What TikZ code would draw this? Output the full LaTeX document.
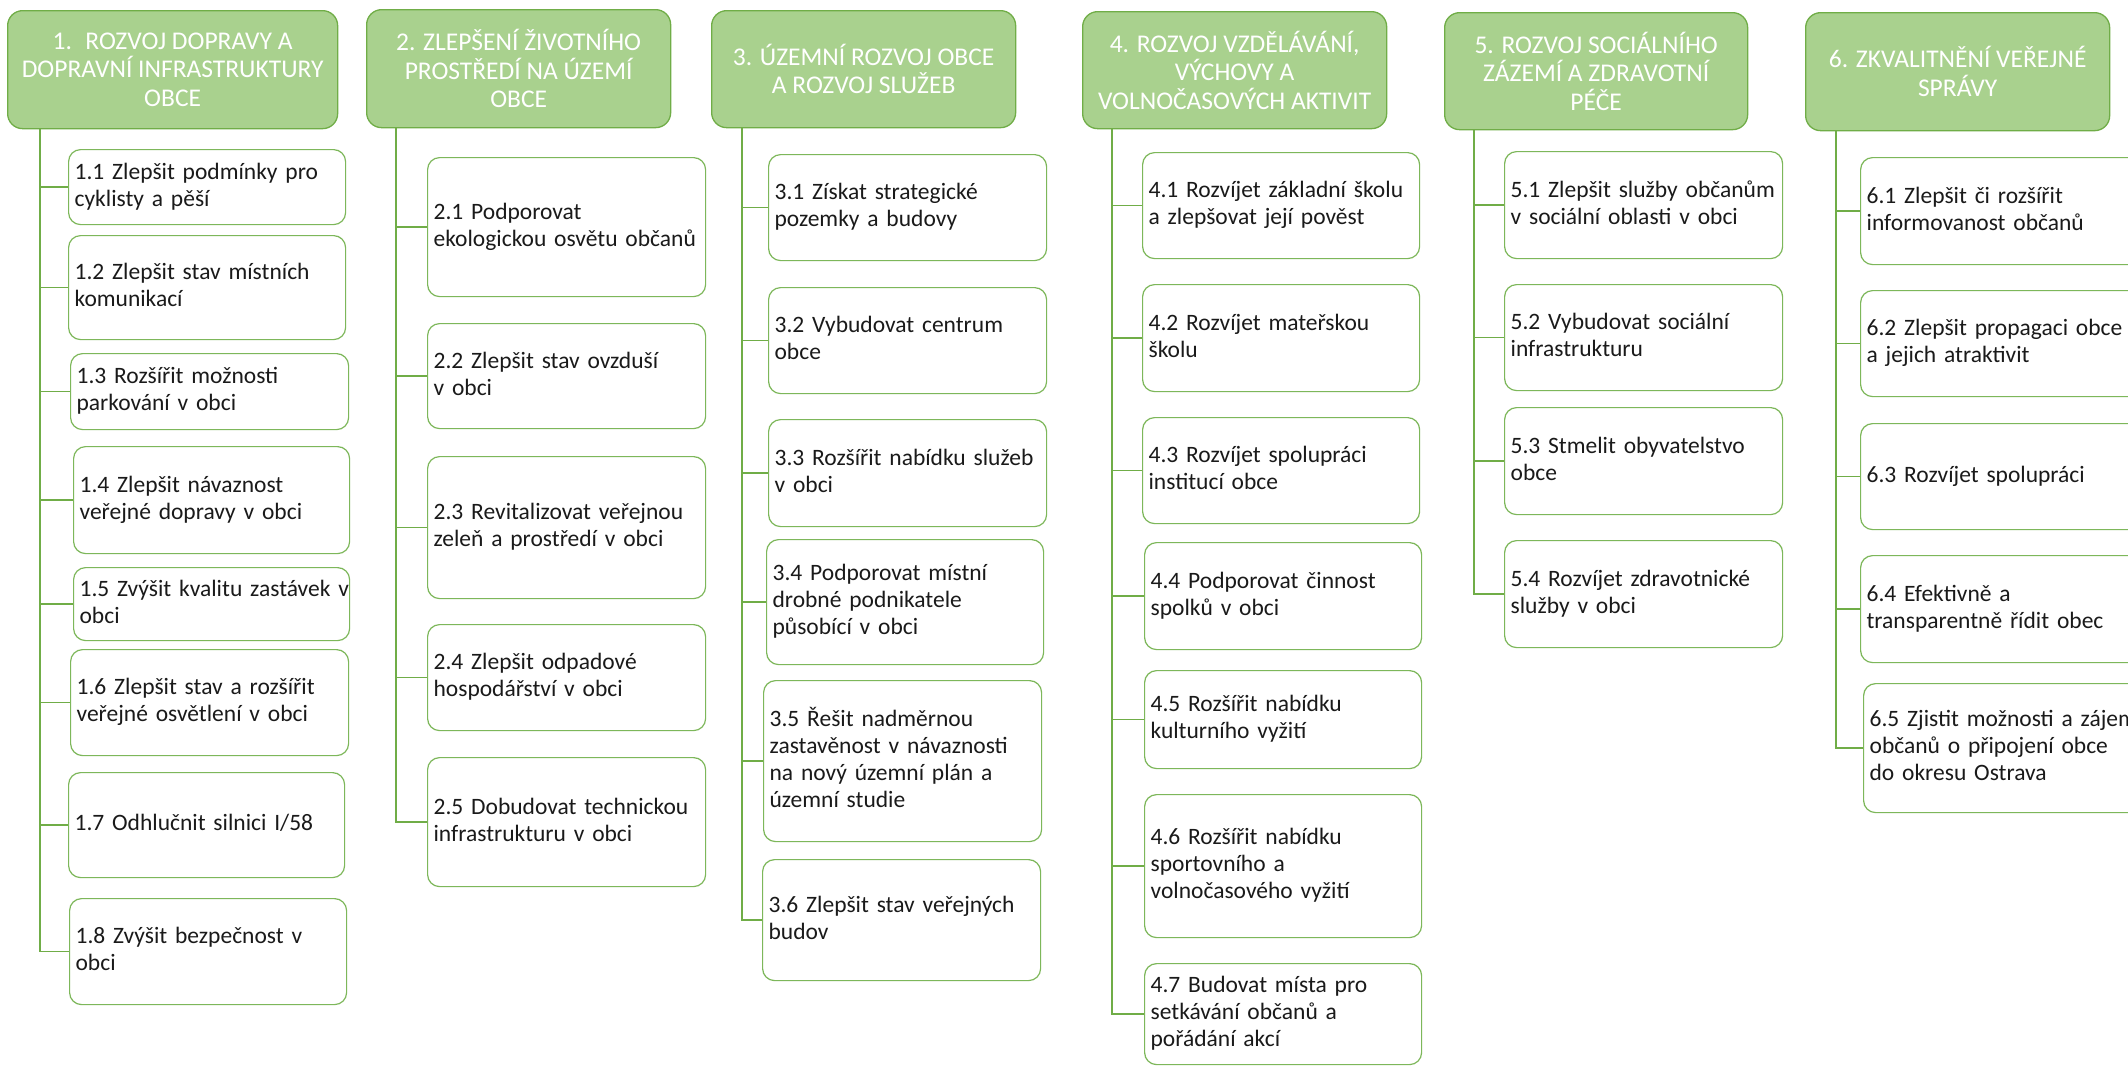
\documentclass[tikz,border=0pt]{standalone}
\usepackage{fontspec}
\setmainfont{Carlito}
\definecolor{hfill}{HTML}{A9D18E}
\definecolor{gline}{HTML}{70AD47}
\definecolor{bline}{HTML}{7DB75A}
\definecolor{txt}{HTML}{1A1A1A}
\tikzset{
 head/.style={draw=gline, line width=1.3pt, fill=hfill, rounded corners=15pt, text=white, align=center,
   font=\fontsize{25.5}{28.5}\selectfont, inner sep=0pt, anchor=north west},
 itembox/.style={draw=bline, line width=1.2pt, fill=white, rounded corners=12pt, text=txt, align=left,
   font=\fontsize{23.5}{27}\selectfont, inner xsep=6pt, inner ysep=0pt, anchor=north west},
 conn/.style={draw=gline, line width=1.5pt},
}
\newcommand\hd[6]{%
 \pgfmathsetmacro\bw{#4-#2}\pgfmathsetmacro\bh{#5-#3}%
 \node[head, minimum width=\bw pt, minimum height=\bh pt] (#1) at (#2,#3) {#6};}
\newcommand\ibox[6]{%
 \pgfmathsetmacro\bw{#4-#2}\pgfmathsetmacro\bh{#5-#3}\pgfmathsetmacro\tw{#4-#2-12}%
 \node[itembox, minimum width=\bw pt, minimum height=\bh pt, text width=\tw pt] (#1) at (#2,#3)
   {\begin{tabular}{@{}l@{}}#6\end{tabular}};}
\begin{document}
\begin{tikzpicture}[x=1pt,y=-1pt]
\clip (0,0) rectangle (2128,1066);
\fill[white] (0,0) rectangle (2128,1066);
% headers
\hd{h1}{7}{10}{337}{128}{1.~ ROZVOJ DOPRAVY A\\DOPRAVNÍ INFRASTRUKTURY\\OBCE}
\hd{h2}{366}{9}{670}{127}{2. ZLEPŠENÍ ŽIVOTNÍHO\\PROSTŘEDÍ NA ÚZEMÍ\\OBCE}
\hd{h3}{711}{10}{1015}{127}{3. ÚZEMNÍ ROZVOJ OBCE\\A ROZVOJ SLUŽEB}
\hd{h4}{1082}{11}{1386}{128}{4. ROZVOJ VZDĚLÁVÁNÍ,\\VÝCHOVY A\\VOLNOČASOVÝCH AKTIVIT}
\hd{h5}{1444}{12}{1747}{129}{5. ROZVOJ SOCIÁLNÍHO\\ZÁZEMÍ A ZDRAVOTNÍ\\PÉČE}
\hd{h6}{1805}{12}{2109}{130}{6. ZKVALITNĚNÍ VEŘEJNÉ\\SPRÁVY}
% column 1
\ibox{n11}{68}{149}{345}{224}{1.1 Zlepšit podmínky pro\\cyklisty a pěší}
\ibox{n12}{68}{235}{345}{339}{1.2 Zlepšit stav místních\\komunikací}
\ibox{n13}{70}{353}{348}{429}{1.3 Rozšířit možnosti\\parkování v obci}
\ibox{n14}{73}{446}{349}{553}{1.4 Zlepšit návaznost\\veřejné dopravy v obci}
\ibox{n15}{73}{567}{349}{640}{1.5 Zvýšit kvalitu zastávek v\\obci}
\ibox{n16}{70}{649}{348}{755}{1.6 Zlepšit stav a rozšířit\\veřejné osvětlení v obci}
\ibox{n17}{68}{772}{344}{877}{1.7 Odhlučnit silnici I/58}
\ibox{n18}{69}{898}{346}{1004}{1.8 Zvýšit bezpečnost v\\obci}
% column 2
\ibox{n21}{427}{157}{705}{296}{2.1 Podporovat\\ekologickou osvětu občanů}
\ibox{n22}{427}{323}{705}{428}{2.2 Zlepšit stav ovzduší\\v obci}
\ibox{n23}{427}{456}{705}{598}{2.3 Revitalizovat veřejnou\\zeleň a prostředí v obci}
\ibox{n24}{427}{624}{705}{730}{2.4 Zlepšit odpadové\\hospodářství v obci}
\ibox{n25}{427}{757}{705}{886}{2.5 Dobudovat technickou\\infrastrukturu v obci}
% column 3
\ibox{n31}{768}{154}{1046}{260}{3.1 Získat strategické\\pozemky a budovy}
\ibox{n32}{768}{287}{1046}{393}{3.2 Vybudovat centrum\\obce}
\ibox{n33}{768}{419}{1046}{526}{3.3 Rozšířit nabídku služeb\\v obci}
\ibox{n34}{766}{539}{1043}{664}{3.4 Podporovat místní\\drobné podnikatele\\působící v obci}
\ibox{n35}{763}{680}{1041}{841}{3.5 Řešit nadměrnou\\zastavěnost v návaznosti\\na nový územní plán a\\územní studie}
\ibox{n36}{762}{859}{1040}{980}{3.6 Zlepšit stav veřejných\\budov}
% column 4
\ibox{n41}{1142}{152}{1419}{258}{4.1 Rozvíjet základní školu\\a zlepšovat její pověst}
\ibox{n42}{1142}{284}{1419}{391}{4.2 Rozvíjet mateřskou\\školu}
\ibox{n43}{1142}{417}{1419}{523}{4.3 Rozvíjet spolupráci\\institucí obce}
\ibox{n44}{1144}{542}{1421}{649}{4.4 Podporovat činnost\\spolků v obci}
\ibox{n45}{1144}{670}{1421}{768}{4.5 Rozšířit nabídku\\kulturního vyžití}
\ibox{n46}{1144}{794}{1421}{937}{4.6 Rozšířit nabídku\\sportovního a\\volnočasového vyžití}
\ibox{n47}{1144}{963}{1421}{1064}{4.7 Budovat místa pro\\setkávání občanů a\\pořádání akcí}
% column 5
\ibox{n51}{1504}{151}{1782}{258}{5.1 Zlepšit služby občanům\\v sociální oblasti v obci}
\ibox{n52}{1504}{284}{1782}{390}{5.2 Vybudovat sociální\\infrastrukturu}
\ibox{n53}{1504}{407}{1782}{514}{5.3 Stmelit obyvatelstvo\\obce}
\ibox{n54}{1504}{540}{1782}{647}{5.4 Rozvíjet zdravotnické\\služby v obci}
% column 6
\ibox{n61}{1860}{157}{2140}{264}{6.1 Zlepšit či rozšířit\\informovanost občanů}
\ibox{n62}{1860}{290}{2140}{396}{6.2 Zlepšit propagaci obce\\a jejich atraktivit}
\ibox{n63}{1860}{423}{2140}{529}{6.3 Rozvíjet spolupráci}
\ibox{n64}{1860}{555}{2140}{662}{6.4 Efektivně a\\transparentně řídit obec}
\ibox{n65}{1863}{683}{2143}{812}{6.5 Zjistit možnosti a zájem\\občanů o připojení obce\\do okresu Ostrava}
% connectors
\coordinate (v1) at (40,128);
\coordinate (v2) at (396,127);
\coordinate (v3) at (742,127);
\coordinate (v4) at (1112,128);
\coordinate (v5) at (1474,129);
\coordinate (v6) at (1836,130);
\draw[conn] (v1) |- (n18.west);
\foreach \k in {1,...,7} \draw[conn] (v1 |- n1\k.west) -- (n1\k.west);
\draw[conn] (v2) |- (n25.west);
\foreach \k in {1,...,4} \draw[conn] (v2 |- n2\k.west) -- (n2\k.west);
\draw[conn] (v3) |- (n36.west);
\foreach \k in {1,...,5} \draw[conn] (v3 |- n3\k.west) -- (n3\k.west);
\draw[conn] (v4) |- (n47.west);
\foreach \k in {1,...,6} \draw[conn] (v4 |- n4\k.west) -- (n4\k.west);
\draw[conn] (v5) |- (n54.west);
\foreach \k in {1,...,3} \draw[conn] (v5 |- n5\k.west) -- (n5\k.west);
\draw[conn] (v6) |- (n65.west);
\foreach \k in {1,...,4} \draw[conn] (v6 |- n6\k.west) -- (n6\k.west);
\end{tikzpicture}
\end{document}
